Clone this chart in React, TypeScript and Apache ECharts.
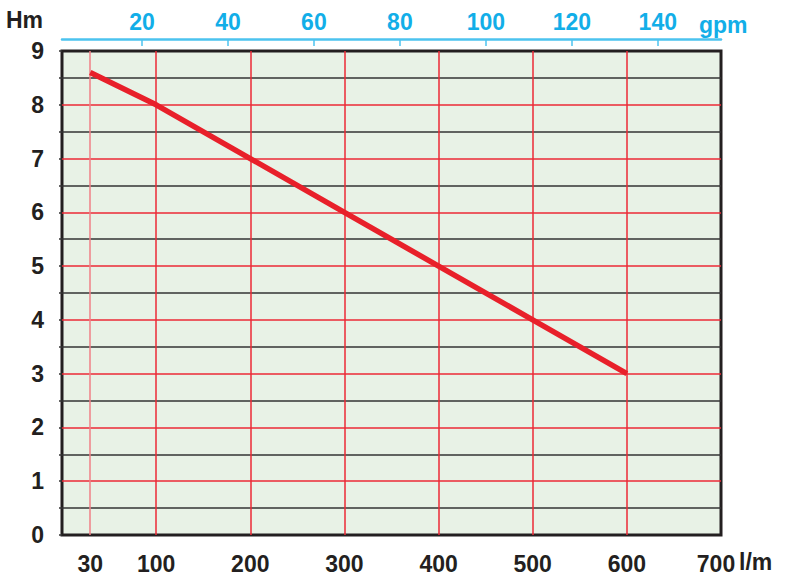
import React, { useEffect, useRef } from "react";
import * as echarts from "echarts";

// Pump curve: flow (l/min) vs head (m)
const flowLpm = [30, 100, 200, 300, 400, 500, 600];
const headM = [8.6, 8.0, 7.0, 6.0, 5.0, 4.0, 3.0];

// Tick labels
const bottomTickValues = [30, 100, 200, 300, 400, 500, 600, 700];
const topTickValues = [20, 40, 60, 80, 100, 120, 140];
const headTickValues = [0, 1, 2, 3, 4, 5, 6, 7, 8, 9];

const RED = "#ec2a36";
const LIGHT_RED = "#f07f86";
const DARK = "#231f20";
const BLUE = "#12aee8";
const FONT = "Liberation Sans";
const FS = 23;

export default function App() {
  const ref = useRef<HTMLDivElement>(null);

  useEffect(() => {
    if (!ref.current) return;
    const chart = echarts.init(ref.current, undefined, { renderer: "svg" });
    const labelFont = {
      color: DARK,
      fontFamily: FONT,
      fontWeight: "bold",
      fontSize: FS,
    };
    chart.setOption({
      animation: false,
      backgroundColor: "#ffffff",
      grid: {
        left: 62,
        right: 66,
        top: 51,
        bottom: 41,
        show: true,
        backgroundColor: "#e8f2e6",
        borderColor: DARK,
        borderWidth: 3,
      },
      graphic: [
        {
          type: "text",
          left: 739,
          top: 550,
          silent: true,
          style: {
            text: "l/m",
            fill: DARK,
            font: `bold ${FS}px "${FONT}"`,
          },
        },
      ],
      xAxis: [
        {
          type: "value",
          position: "bottom",
          min: 0,
          max: 700,
          interval: 100,
          axisLine: { show: false },
          axisTick: { show: false },
          axisLabel: {
            customValues: bottomTickValues,
            ...labelFont,
            margin: 17,
            formatter: (v: number) =>
              v === bottomTickValues[bottomTickValues.length - 1]
                ? `{last|${v}}`
                : `{n|${v}}`,
            rich: {
              n: { ...labelFont },
              last: { ...labelFont, padding: [0, 10, 0, 0] },
            },
          },
          splitLine: {
            show: true,
            showMinLine: false,
            showMaxLine: false,
            lineStyle: { color: RED, width: 1.5 },
          },
        },
        {
          type: "value",
          position: "top",
          offset: 12,
          min: 1.4,
          max: 154.7,
          name: "gpm",
          nameLocation: "end",
          nameGap: -22,
          nameTextStyle: {
            color: BLUE,
            fontFamily: FONT,
            fontWeight: "bold",
            fontSize: FS,
            align: "left",
            verticalAlign: "bottom",
            padding: [0, 0, 3, 0],
          },
          axisLine: { show: true, lineStyle: { color: "#4cc3ef", width: 2.5 } },
          axisTick: {
            show: true,
            inside: true,
            length: 7,
            customValues: topTickValues,
            lineStyle: { color: "#4cc3ef", width: 1.5 },
          },
          axisLabel: {
            customValues: topTickValues,
            color: BLUE,
            fontFamily: FONT,
            fontWeight: "bold",
            fontSize: FS,
            margin: 6,
          },
          splitLine: { show: false },
        },
      ],
      yAxis: {
        type: "value",
        min: 0,
        max: 9,
        interval: 0.5,
        name: "Hm",
        nameLocation: "end",
        nameGap: 20,
        nameTextStyle: {
          ...labelFont,
          align: "right",
          verticalAlign: "bottom",
          padding: [0, 19, 0, 0],
        },
        axisLine: { show: false },
        axisTick: { show: true, length: 3, lineStyle: { color: "#333", width: 1.5 } },
        axisLabel: {
          customValues: headTickValues,
          ...labelFont,
          margin: 18,
        },
        splitLine: {
          show: true,
          showMinLine: false,
          showMaxLine: false,
          lineStyle: { color: ["#333333", RED], width: 1.5 },
        },
      },
      series: [
        {
          type: "line",
          xAxisIndex: 0,
          yAxisIndex: 0,
          data: flowLpm.map((f, i) => [f, headM[i]]),
          showSymbol: false,
          symbol: "none",
          lineStyle: { color: "#e8202a", width: 5.5, cap: "butt" },
          z: 5,
          markLine: {
            silent: true,
            symbol: "none",
            label: { show: false },
            lineStyle: { color: LIGHT_RED, type: "solid", width: 1.5 },
            data: [{ xAxis: flowLpm[0] }],
          },
        },
      ],
    });
    return () => chart.dispose();
  }, []);

  return (
    <div
      ref={ref}
      style={{ position: "fixed", left: 0, top: 0, width: 787, height: 576 }}
    />
  );
}
